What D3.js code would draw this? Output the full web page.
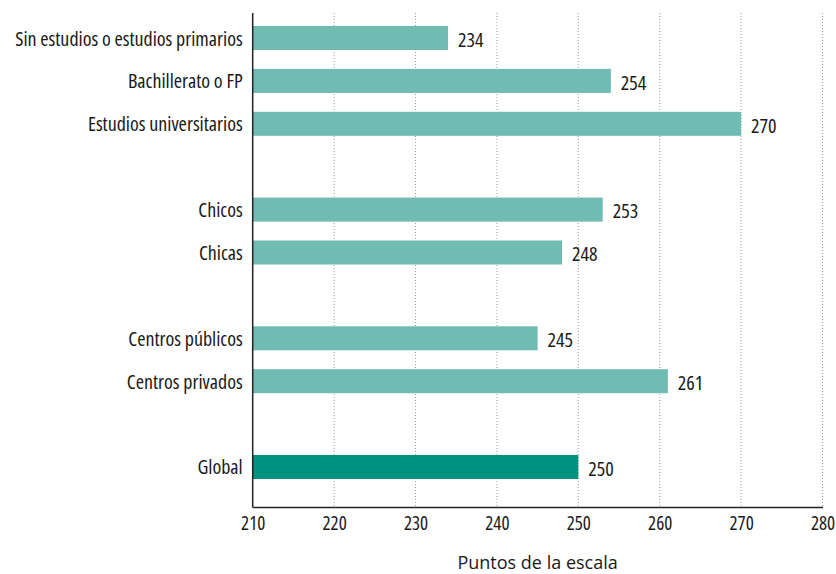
<!DOCTYPE html>
<html>
<head>
<meta charset="utf-8">
<script src="https://cdn.jsdelivr.net/npm/d3@7"></script>
<style>
  body { margin: 0; background: #fff; }
  svg text { font-family: "Open Sans", "Lato", sans-serif; font-stretch: 75%; font-weight: 400; fill: #1a1a1a; }
  svg text.title { font-stretch: 100%; font-weight: 400; fill: #1a1a1a; }
</style>
</head>
<body>
<svg id="chart" width="836" height="574"></svg>
<script>
// Data
const categories = [
  "Sin estudios o estudios primarios",
  "Bachillerato o FP",
  "Estudios universitarios",
  "",
  "Chicos",
  "Chicas",
  "",
  "Centros públicos",
  "Centros privados",
  "",
  "Global"
];
const values = [234, 254, 270, null, 253, 248, null, 245, 261, null, 250];
const highlight = [false, false, false, false, false, false, false, false, false, false, true];
const xTicks = [210, 220, 230, 240, 250, 260, 270, 280];
const xTitle = "Puntos de la escala";

(function () {
const svg = d3.select("#chart");
const mLeft = 252.7, mRight = 822.5, mTop = 13, mBottom = 507;

const x = d3.scaleLinear().domain([210, 280]).range([mLeft, mRight]);
const rowKeys = categories.map((c, i) => i);
const y = d3.scaleBand().domain(rowKeys).range([26, 479]).paddingInner(0.44).paddingOuter(0);

// gridlines
svg.append("g").selectAll("line")
  .data(xTicks.filter(t => t !== 210))
  .join("line")
  .attr("x1", d => x(d)).attr("x2", d => x(d))
  .attr("y1", mTop).attr("y2", mBottom)
  .attr("stroke", "#a0a0a0")
  .attr("stroke-width", 1)
  .attr("stroke-dasharray", "1,2");

const rows = categories.map((c, i) => ({c, v: values[i], h: highlight[i], i})).filter(d => d.v !== null);

// bars
svg.append("g").selectAll("rect")
  .data(rows)
  .join("rect")
  .attr("x", x(210))
  .attr("y", d => y(d.i))
  .attr("width", d => x(d.v) - x(210))
  .attr("height", y.bandwidth())
  .attr("fill", d => d.h ? "#00917f" : "#70bbb2");

// value labels
svg.append("g").selectAll("text")
  .data(rows)
  .join("text")
  .attr("x", d => x(d.v) + 10)
  .attr("y", d => y(d.i) + y.bandwidth() / 2 + 8.7)
  .attr("font-size", 20)
  .text(d => d.v);

// category labels
svg.append("g").selectAll("text")
  .data(rows)
  .join("text")
  .attr("x", mLeft - 10)
  .attr("y", d => y(d.i) + y.bandwidth() / 2 + 7.5)
  .attr("text-anchor", "end")
  .attr("font-size", 20)
  .text(d => d.c);

// axes
const xAxis = d3.axisBottom(x).tickValues(xTicks).tickSize(0).tickPadding(10);
const gx = svg.append("g").attr("transform", `translate(0,${mBottom})`).call(xAxis);
gx.attr("font-family", null).attr("font-size", null);
gx.select(".domain").attr("stroke", "#222").attr("stroke-width", 1.5);
gx.selectAll("text").attr("font-size", 19).attr("fill", "#1a1a1a");

svg.append("line")
  .attr("x1", mLeft).attr("x2", mLeft)
  .attr("y1", mTop).attr("y2", mBottom + 0.75)
  .attr("stroke", "#222").attr("stroke-width", 1.5);

svg.append("text")
  .attr("class", "title")
  .attr("x", (mLeft + mRight) / 2)
  .attr("y", 569)
  .attr("text-anchor", "middle")
  .attr("font-size", 18)
  .text(xTitle);
})();
</script>
</body>
</html>
